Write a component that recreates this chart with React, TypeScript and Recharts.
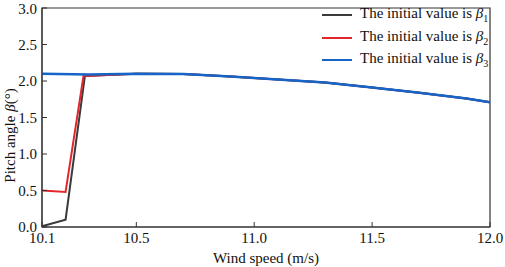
import React from "react";
import { LineChart, Line, XAxis, YAxis, ReferenceArea } from "recharts";

// wind speed (m/s) and pitch angle (deg) for the three initial values
const beta1Speed = [10.1, 10.2, 10.282, 10.5, 10.7, 10.9, 11.1, 11.3, 11.5, 11.7, 11.9, 12.0];
const beta1Pitch = [0.01, 0.1, 2.07, 2.1, 2.095, 2.06, 2.02, 1.98, 1.91, 1.84, 1.76, 1.71];

const beta2Speed = [10.1, 10.2, 10.276, 10.5, 10.7, 10.9, 11.1, 11.3, 11.5, 11.7, 11.9, 12.0];
const beta2Pitch = [0.5, 0.48, 2.07, 2.1, 2.095, 2.06, 2.02, 1.98, 1.91, 1.84, 1.76, 1.71];

const beta3Speed = [10.1, 10.3, 10.5, 10.7, 10.9, 11.1, 11.3, 11.5, 11.7, 11.9, 12.0];
const beta3Pitch = [2.1, 2.09, 2.1, 2.095, 2.06, 2.02, 1.98, 1.91, 1.84, 1.76, 1.71];

const xTicks = [10.1, 10.5, 11.0, 11.5, 12.0];
const yTicks = [0, 0.5, 1.0, 1.5, 2.0, 2.5, 3.0];

const seriesNames = ["1", "2", "3"];
const seriesColors = ["#3a3a3a", "#e2272c", "#1565c8"];

const toRows = (xs: number[], ys: number[]) => xs.map((x, i) => ({ speed: x, pitch: ys[i] }));

const font = "'Liberation Serif', 'Times New Roman', serif";
const tickStyle = { fill: "#111", fontSize: 15, fontFamily: font };

function LegendBox() {
  return (
    <div
      style={{
        position: "absolute",
        left: 322,
        top: 4,
        fontFamily: font,
        fontSize: 15,
        color: "#111",
        lineHeight: 1,
      }}
    >
      {seriesNames.map((n, i) => (
        <div key={n} style={{ display: "flex", alignItems: "center", height: 22.5 }}>
          <span
            style={{
              display: "inline-block",
              width: 30,
              height: 2,
              background: seriesColors[i],
              marginRight: 8,
            }}
          />
          <span>
            The initial value is <i>β</i>
            <sub style={{ fontSize: 10 }}>{n}</sub>
          </span>
        </div>
      ))}
    </div>
  );
}

// rotated y label with italic beta
function PitchLabel(props: any) {
  const vb = props.viewBox || {};
  const cx = (vb.x ?? 0) + 10;
  const cy = (vb.y ?? 0) + (vb.height ?? 0) / 2 + 18;
  return (
    <text
      x={cx}
      y={cy}
      transform={`rotate(-90, ${cx}, ${cy})`}
      textAnchor="middle"
      dominantBaseline="central"
      style={{ fill: "#111", fontSize: 15, fontFamily: font }}
    >
      Pitch angle <tspan fontStyle="italic">β</tspan>(°)
    </text>
  );
}

export default function App() {
  return (
    <div style={{ position: "absolute", left: 0, top: 0, width: 505, height: 267, background: "#fff" }}>
      <LineChart width={505} height={267} margin={{ top: 8, right: 15, left: 0, bottom: 0 }}>
        <XAxis
          dataKey="speed"
          type="number"
          domain={[10.1, 12]}
          ticks={xTicks}
          tickFormatter={(v: number) => v.toFixed(1)}
          allowDuplicatedCategory={false}
          height={40}
          tick={tickStyle}
          tickSize={-5}
          tickMargin={10}
          stroke="#333"
          label={{
            value: "Wind speed (m/s)",
            position: "insideBottom",
            offset: 4,
            style: { fill: "#111", fontSize: 15, fontFamily: font },
          }}
        />
        <YAxis
          dataKey="pitch"
          type="number"
          domain={[0, 3]}
          ticks={yTicks}
          tickFormatter={(v: number) => v.toFixed(1)}
          width={42}
          tick={tickStyle}
          tickSize={-5}
          tickMargin={10}
          stroke="#333"
          label={<PitchLabel />}
        />
        <ReferenceArea x1={10.1} x2={12} y1={0} y2={3} fill="none" stroke="#333" strokeWidth={1.2} />
        <Line
          data={toRows(beta1Speed, beta1Pitch)}
          dataKey="pitch"
          stroke={seriesColors[0]}
          strokeWidth={2}
          dot={false}
          isAnimationActive={false}
        />
        <Line
          data={toRows(beta2Speed, beta2Pitch)}
          dataKey="pitch"
          stroke={seriesColors[1]}
          strokeWidth={2}
          dot={false}
          isAnimationActive={false}
        />
        <Line
          data={toRows(beta3Speed, beta3Pitch)}
          dataKey="pitch"
          stroke={seriesColors[2]}
          strokeWidth={2.5}
          dot={false}
          isAnimationActive={false}
        />
      </LineChart>
      <LegendBox />
    </div>
  );
}
